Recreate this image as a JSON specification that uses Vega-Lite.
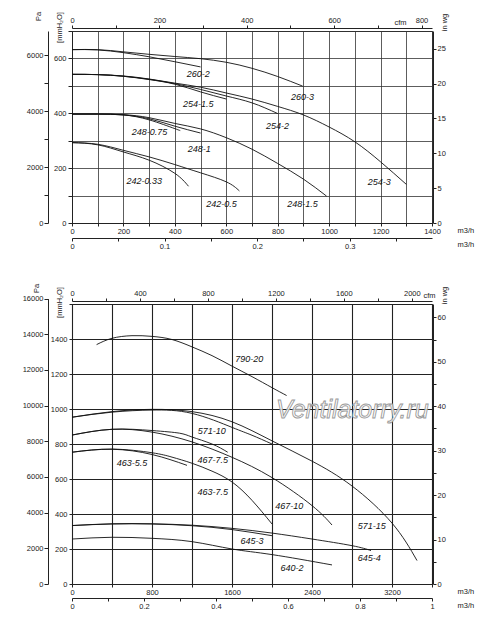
{
  "$schema": "https://vega.github.io/schema/vega-lite/v6.json",
  "description": "Fan performance curves, two panels",
  "padding": {"left": 21, "top": 10, "right": 5, "bottom": 5},
  "spacing": 32,
  "datasets": {
    "top": [
      {"fan": "260-2", "q": 0, "p": 632}, {"fan": "260-2", "q": 100, "p": 631}, {"fan": "260-2", "q": 200, "p": 621}, {"fan": "260-2", "q": 300, "p": 606}, {"fan": "260-2", "q": 400, "p": 588}, {"fan": "260-2", "q": 500, "p": 569},
      {"fan": "260-3", "q": 0, "p": 632}, {"fan": "260-3", "q": 100, "p": 632}, {"fan": "260-3", "q": 200, "p": 624}, {"fan": "260-3", "q": 300, "p": 615}, {"fan": "260-3", "q": 400, "p": 607}, {"fan": "260-3", "q": 500, "p": 599}, {"fan": "260-3", "q": 600, "p": 586}, {"fan": "260-3", "q": 700, "p": 564}, {"fan": "260-3", "q": 800, "p": 534}, {"fan": "260-3", "q": 897, "p": 499},
      {"fan": "254-1.5", "q": 0, "p": 542}, {"fan": "254-1.5", "q": 100, "p": 541}, {"fan": "254-1.5", "q": 200, "p": 535}, {"fan": "254-1.5", "q": 300, "p": 523}, {"fan": "254-1.5", "q": 400, "p": 506}, {"fan": "254-1.5", "q": 500, "p": 478}, {"fan": "254-1.5", "q": 600, "p": 452},
      {"fan": "254-2", "q": 0, "p": 542}, {"fan": "254-2", "q": 100, "p": 541}, {"fan": "254-2", "q": 200, "p": 535}, {"fan": "254-2", "q": 300, "p": 524}, {"fan": "254-2", "q": 400, "p": 508}, {"fan": "254-2", "q": 500, "p": 487}, {"fan": "254-2", "q": 600, "p": 463}, {"fan": "254-2", "q": 700, "p": 438}, {"fan": "254-2", "q": 800, "p": 399},
      {"fan": "254-3", "q": 0, "p": 542}, {"fan": "254-3", "q": 100, "p": 541}, {"fan": "254-3", "q": 200, "p": 536}, {"fan": "254-3", "q": 300, "p": 525}, {"fan": "254-3", "q": 400, "p": 510}, {"fan": "254-3", "q": 500, "p": 495}, {"fan": "254-3", "q": 600, "p": 474}, {"fan": "254-3", "q": 700, "p": 452}, {"fan": "254-3", "q": 800, "p": 425}, {"fan": "254-3", "q": 900, "p": 394}, {"fan": "254-3", "q": 1000, "p": 350}, {"fan": "254-3", "q": 1100, "p": 296}, {"fan": "254-3", "q": 1200, "p": 223}, {"fan": "254-3", "q": 1300, "p": 141},
      {"fan": "248-0.75", "q": 0, "p": 397}, {"fan": "248-0.75", "q": 100, "p": 397}, {"fan": "248-0.75", "q": 200, "p": 394}, {"fan": "248-0.75", "q": 300, "p": 376}, {"fan": "248-0.75", "q": 400, "p": 344}, {"fan": "248-0.75", "q": 421, "p": 337},
      {"fan": "248-1", "q": 0, "p": 397}, {"fan": "248-1", "q": 100, "p": 397}, {"fan": "248-1", "q": 200, "p": 394}, {"fan": "248-1", "q": 300, "p": 380}, {"fan": "248-1", "q": 400, "p": 353}, {"fan": "248-1", "q": 500, "p": 328},
      {"fan": "248-1.5", "q": 0, "p": 397}, {"fan": "248-1.5", "q": 100, "p": 397}, {"fan": "248-1.5", "q": 200, "p": 395}, {"fan": "248-1.5", "q": 300, "p": 384}, {"fan": "248-1.5", "q": 400, "p": 363}, {"fan": "248-1.5", "q": 500, "p": 343}, {"fan": "248-1.5", "q": 600, "p": 311}, {"fan": "248-1.5", "q": 700, "p": 269}, {"fan": "248-1.5", "q": 800, "p": 217}, {"fan": "248-1.5", "q": 900, "p": 160}, {"fan": "248-1.5", "q": 990, "p": 98},
      {"fan": "242-0.33", "q": 0, "p": 293}, {"fan": "242-0.33", "q": 100, "p": 285}, {"fan": "242-0.33", "q": 200, "p": 259}, {"fan": "242-0.33", "q": 300, "p": 229}, {"fan": "242-0.33", "q": 400, "p": 181}, {"fan": "242-0.33", "q": 453, "p": 134},
      {"fan": "242-0.5", "q": 0, "p": 293}, {"fan": "242-0.5", "q": 100, "p": 287}, {"fan": "242-0.5", "q": 200, "p": 265}, {"fan": "242-0.5", "q": 300, "p": 241}, {"fan": "242-0.5", "q": 400, "p": 213}, {"fan": "242-0.5", "q": 500, "p": 183}, {"fan": "242-0.5", "q": 600, "p": 150}, {"fan": "242-0.5", "q": 651, "p": 117}
    ],
    "topLabels": [
      {"fan": "260-2", "q": 491, "p": 544}, {"fan": "254-1.5", "q": 491, "p": 433}, {"fan": "248-0.75", "q": 301, "p": 331}, {"fan": "248-1", "q": 495, "p": 269}, {"fan": "242-0.33", "q": 281, "p": 153},
      {"fan": "242-0.5", "q": 581, "p": 69}, {"fan": "260-3", "q": 896, "p": 458}, {"fan": "254-2", "q": 799, "p": 353}, {"fan": "254-3", "q": 1195, "p": 149}, {"fan": "248-1.5", "q": 896, "p": 69}
    ],
    "bottom": [
      {"fan": "790-20", "q": 246, "p": 1368}, {"fan": "790-20", "q": 400, "p": 1404}, {"fan": "790-20", "q": 600, "p": 1419}, {"fan": "790-20", "q": 800, "p": 1415}, {"fan": "790-20", "q": 1000, "p": 1397}, {"fan": "790-20", "q": 1200, "p": 1355}, {"fan": "790-20", "q": 1400, "p": 1305}, {"fan": "790-20", "q": 1600, "p": 1245}, {"fan": "790-20", "q": 1800, "p": 1185}, {"fan": "790-20", "q": 2000, "p": 1122}, {"fan": "790-20", "q": 2146, "p": 1077},
      {"fan": "571-15", "q": 0, "p": 953}, {"fan": "571-15", "q": 400, "p": 985}, {"fan": "571-15", "q": 800, "p": 998}, {"fan": "571-15", "q": 1200, "p": 985}, {"fan": "571-15", "q": 1600, "p": 927}, {"fan": "571-15", "q": 2000, "p": 818}, {"fan": "571-15", "q": 2400, "p": 702}, {"fan": "571-15", "q": 2800, "p": 560}, {"fan": "571-15", "q": 3200, "p": 348}, {"fan": "571-15", "q": 3450, "p": 134},
      {"fan": "571-10", "q": 0, "p": 953}, {"fan": "571-10", "q": 400, "p": 982}, {"fan": "571-10", "q": 800, "p": 994}, {"fan": "571-10", "q": 1200, "p": 975}, {"fan": "571-10", "q": 1600, "p": 895}, {"fan": "571-10", "q": 1800, "p": 850}, {"fan": "571-10", "q": 2000, "p": 800},
      {"fan": "467-7.5", "q": 0, "p": 851}, {"fan": "467-7.5", "q": 400, "p": 884}, {"fan": "467-7.5", "q": 800, "p": 877}, {"fan": "467-7.5", "q": 1073, "p": 862}, {"fan": "467-7.5", "q": 1200, "p": 840}, {"fan": "467-7.5", "q": 1400, "p": 800}, {"fan": "467-7.5", "q": 1557, "p": 753},
      {"fan": "467-10", "q": 0, "p": 851}, {"fan": "467-10", "q": 400, "p": 884}, {"fan": "467-10", "q": 800, "p": 868}, {"fan": "467-10", "q": 1200, "p": 812}, {"fan": "467-10", "q": 1600, "p": 724}, {"fan": "467-10", "q": 2000, "p": 608}, {"fan": "467-10", "q": 2400, "p": 448}, {"fan": "467-10", "q": 2600, "p": 337},
      {"fan": "463-5.5", "q": 0, "p": 753}, {"fan": "463-5.5", "q": 400, "p": 770}, {"fan": "463-5.5", "q": 800, "p": 740}, {"fan": "463-5.5", "q": 1150, "p": 678},
      {"fan": "463-7.5", "q": 0, "p": 753}, {"fan": "463-7.5", "q": 400, "p": 771}, {"fan": "463-7.5", "q": 800, "p": 750}, {"fan": "463-7.5", "q": 1000, "p": 725}, {"fan": "463-7.5", "q": 1200, "p": 690}, {"fan": "463-7.5", "q": 1400, "p": 645}, {"fan": "463-7.5", "q": 1600, "p": 583}, {"fan": "463-7.5", "q": 1800, "p": 478}, {"fan": "463-7.5", "q": 2000, "p": 343},
      {"fan": "645-3", "q": 0, "p": 334}, {"fan": "645-3", "q": 400, "p": 343}, {"fan": "645-3", "q": 800, "p": 343}, {"fan": "645-3", "q": 1200, "p": 333}, {"fan": "645-3", "q": 1600, "p": 311}, {"fan": "645-3", "q": 2000, "p": 276},
      {"fan": "645-4", "q": 0, "p": 334}, {"fan": "645-4", "q": 400, "p": 344}, {"fan": "645-4", "q": 800, "p": 344}, {"fan": "645-4", "q": 1200, "p": 336}, {"fan": "645-4", "q": 1600, "p": 318}, {"fan": "645-4", "q": 2000, "p": 291}, {"fan": "645-4", "q": 2400, "p": 257}, {"fan": "645-4", "q": 2800, "p": 219}, {"fan": "645-4", "q": 2990, "p": 191},
      {"fan": "640-2", "q": 0, "p": 257}, {"fan": "640-2", "q": 400, "p": 267}, {"fan": "640-2", "q": 800, "p": 261}, {"fan": "640-2", "q": 1200, "p": 242}, {"fan": "640-2", "q": 1600, "p": 200}, {"fan": "640-2", "q": 2000, "p": 168}, {"fan": "640-2", "q": 2600, "p": 109}
    ],
    "bottomLabels": [
      {"fan": "790-20", "q": 1773, "p": 1286}, {"fan": "571-10", "q": 1397, "p": 873}, {"fan": "467-7.5", "q": 1407, "p": 711}, {"fan": "463-7.5", "q": 1407, "p": 528}, {"fan": "463-5.5", "q": 600, "p": 690},
      {"fan": "467-10", "q": 2173, "p": 448}, {"fan": "571-15", "q": 2997, "p": 330}, {"fan": "645-3", "q": 1800, "p": 244}, {"fan": "645-4", "q": 2973, "p": 147}, {"fan": "640-2", "q": 2200, "p": 91}
    ],
    "mark": [{"site": "Ventilatorry.ru", "q": 2803, "p": 992}],
    "stub": [{"v": 0}]
  },
  "vconcat": [
    {
      "width": 360,
      "height": 192,
      "resolve": {"scale": {"x": "independent", "y": "independent"}},
      "layer": [
        {
          "data": {"name": "top"},
          "mark": {"type": "line", "interpolate": "natural", "color": "#111", "strokeWidth": 0.9},
          "encoding": {
            "x": {"field": "q", "type": "quantitative", "scale": {"domain": [0, 1400], "nice": false},
              "axis": {"orient": "bottom", "values": [0, 100, 200, 300, 400, 500, 600, 700, 800, 900, 1000, 1100, 1200, 1300, 1400], "format": "d",
                "labelExpr": "datum.value % 200 === 0 ? datum.label : ''", "grid": true, "gridColor": "#333", "gridWidth": 0.8, "tickSize": 3, "labelPadding": 1,
                "title": "m3/h", "titleX": 385, "titleY": 7, "titleAlign": "left", "titleBaseline": "middle", "titleAngle": 0}},
            "y": {"field": "p", "type": "quantitative", "scale": {"domain": [0, 700], "nice": false},
              "axis": {"orient": "left", "values": [0, 100, 200, 300, 400, 500, 600, 700], "format": "d",
                "labelExpr": "datum.value % 200 === 0 ? datum.label : ''", "grid": true, "gridColor": "#333", "gridWidth": 0.8, "tickSize": 4, "labelPadding": 2,
                "title": "[mmH₂O]", "titleX": -13, "titleY": -4, "titleAngle": 270, "titleAlign": "center", "titleBaseline": "middle"}},
            "detail": {"field": "fan"}
          }
        },
        {
          "data": {"name": "topLabels"},
          "mark": {"type": "text", "fontSize": 9, "fontStyle": "italic", "color": "#111", "align": "center", "baseline": "middle"},
          "encoding": {
            "x": {"field": "q", "type": "quantitative", "scale": {"domain": [0, 1400], "nice": false}, "axis": null},
            "y": {"field": "p", "type": "quantitative", "scale": {"domain": [0, 700], "nice": false}, "axis": null},
            "text": {"field": "fan"}
          }
        },
        {
          "data": {"name": "stub"},
          "mark": {"type": "point", "opacity": 0},
          "encoding": {
            "x": {"field": "v", "type": "quantitative", "scale": {"domain": [0, 824], "nice": false},
              "axis": {"orient": "top", "offset": 3, "values": [0, 100, 200, 300, 400, 500, 600, 700, 800], "format": "d",
                "labelExpr": "datum.value % 200 === 0 ? datum.label : ''", "tickSize": 3, "labelPadding": 1,
                "title": "cfm", "titleX": 328, "titleY": -6, "titleAlign": "center", "titleBaseline": "middle", "titleAngle": 0}},
            "y": {"field": "v", "type": "quantitative", "scale": {"domain": [0, 1]}, "axis": null}
          }
        },
        {
          "data": {"name": "stub"},
          "mark": {"type": "point", "opacity": 0},
          "encoding": {
            "x": {"field": "v", "type": "quantitative", "scale": {"domain": [0, 0.38889], "nice": false},
              "axis": {"orient": "bottom", "offset": 15, "values": [0, 0.05, 0.1, 0.15, 0.2, 0.25, 0.3, 0.35],
                "labelExpr": "round(datum.value * 100) % 10 === 0 ? format(datum.value, '~g') : ''", "tickSize": 3, "labelPadding": 1,
                "title": "m3/h", "titleX": 385, "titleY": 6, "titleAlign": "left", "titleBaseline": "middle", "titleAngle": 0}},
            "y": {"field": "v", "type": "quantitative", "scale": {"domain": [0, 1]}, "axis": null}
          }
        },
        {
          "data": {"name": "stub"},
          "mark": {"type": "point", "opacity": 0},
          "encoding": {
            "x": {"field": "v", "type": "quantitative", "scale": {"domain": [0, 1]}, "axis": null},
            "y": {"field": "v", "type": "quantitative", "scale": {"domain": [0, 6867], "nice": false},
              "axis": {"orient": "left", "offset": 24, "values": [0, 1000, 2000, 3000, 4000, 5000, 6000], "format": "d",
                "labelExpr": "datum.value % 2000 === 0 ? datum.label : ''", "tickSize": 4, "labelPadding": 1,
                "title": "Pa", "titleX": -10, "titleY": -15, "titleAngle": 270, "titleAlign": "center", "titleBaseline": "middle"}}
          }
        },
        {
          "data": {"name": "stub"},
          "mark": {"type": "point", "opacity": 0},
          "encoding": {
            "x": {"field": "v", "type": "quantitative", "scale": {"domain": [0, 1]}, "axis": null},
            "y": {"field": "v", "type": "quantitative", "scale": {"domain": [0, 27.559], "nice": false},
              "axis": {"orient": "right", "offset": 1, "values": [0, 5, 10, 15, 20, 25], "tickSize": 3, "labelPadding": 1,
                "title": "in wg", "titleX": 11, "titleY": -9, "titleAngle": 270, "titleAlign": "center", "titleBaseline": "middle"}}
          }
        }
      ]
    },
    {
      "width": 360,
      "height": 280,
      "resolve": {"scale": {"x": "independent", "y": "independent"}},
      "layer": [
        {
          "data": {"name": "bottom"},
          "mark": {"type": "line", "interpolate": "natural", "color": "#111", "strokeWidth": 0.9},
          "encoding": {
            "x": {"field": "q", "type": "quantitative", "scale": {"domain": [0, 3600], "nice": false},
              "axis": {"orient": "bottom", "values": [0, 400, 800, 1200, 1600, 2000, 2400, 2800, 3200, 3600], "format": "d",
                "labelExpr": "datum.value % 800 === 0 ? datum.label : ''", "grid": true, "gridColor": "#222", "gridWidth": 1.1, "tickSize": 3, "labelPadding": 1,
                "title": "m3/h", "titleX": 385, "titleY": 7, "titleAlign": "left", "titleBaseline": "middle", "titleAngle": 0}},
            "y": {"field": "p", "type": "quantitative", "scale": {"domain": [0, 1600], "nice": false},
              "axis": {"orient": "left", "values": [0, 200, 400, 600, 800, 1000, 1200, 1400, 1600], "format": "d",
                "labelExpr": "datum.value < 1600 ? datum.label : ''", "grid": true, "gridColor": "#222", "gridWidth": 1.1, "tickSize": 3, "labelPadding": 2,
                "title": "[mmH₂O]", "titleX": -13, "titleY": -2, "titleAngle": 270, "titleAlign": "center", "titleBaseline": "middle"}},
            "detail": {"field": "fan"}
          }
        },
        {
          "data": {"name": "mark"},
          "mark": {"type": "text", "fontSize": 25, "fontStyle": "italic", "fill": "#ffffff", "fillOpacity": 0.85, "stroke": "#9a9a9a", "strokeWidth": 0.9, "align": "center", "baseline": "middle"},
          "encoding": {
            "x": {"field": "q", "type": "quantitative", "scale": {"domain": [0, 3600], "nice": false}, "axis": null},
            "y": {"field": "p", "type": "quantitative", "scale": {"domain": [0, 1600], "nice": false}, "axis": null},
            "text": {"field": "site"}
          }
        },
        {
          "data": {"name": "bottomLabels"},
          "mark": {"type": "text", "fontSize": 9, "fontStyle": "italic", "color": "#111", "align": "center", "baseline": "middle"},
          "encoding": {
            "x": {"field": "q", "type": "quantitative", "scale": {"domain": [0, 3600], "nice": false}, "axis": null},
            "y": {"field": "p", "type": "quantitative", "scale": {"domain": [0, 1600], "nice": false}, "axis": null},
            "text": {"field": "fan"}
          }
        },
        {
          "data": {"name": "stub"},
          "mark": {"type": "point", "opacity": 0},
          "encoding": {
            "x": {"field": "v", "type": "quantitative", "scale": {"domain": [0, 2118.9], "nice": false},
              "axis": {"orient": "top", "offset": 3, "values": [0, 200, 400, 600, 800, 1000, 1200, 1400, 1600, 1800, 2000], "format": "d",
                "labelExpr": "datum.value % 400 === 0 ? datum.label : ''", "tickSize": 3, "labelPadding": 1,
                "title": "cfm", "titleX": 357, "titleY": -6, "titleAlign": "center", "titleBaseline": "middle", "titleAngle": 0}},
            "y": {"field": "v", "type": "quantitative", "scale": {"domain": [0, 1]}, "axis": null}
          }
        },
        {
          "data": {"name": "stub"},
          "mark": {"type": "point", "opacity": 0},
          "encoding": {
            "x": {"field": "v", "type": "quantitative", "scale": {"domain": [0, 1], "nice": false},
              "axis": {"orient": "bottom", "offset": 14, "values": [0, 0.1, 0.2, 0.3, 0.4, 0.5, 0.6, 0.7, 0.8, 0.9, 1],
                "labelExpr": "round(datum.value * 10) % 2 === 0 ? format(datum.value, '~g') : ''", "tickSize": 3, "labelPadding": 1,
                "title": "m3/h", "titleX": 385, "titleY": 7, "titleAlign": "left", "titleBaseline": "middle", "titleAngle": 0}},
            "y": {"field": "v", "type": "quantitative", "scale": {"domain": [0, 1]}, "axis": null}
          }
        },
        {
          "data": {"name": "stub"},
          "mark": {"type": "point", "opacity": 0},
          "encoding": {
            "x": {"field": "v", "type": "quantitative", "scale": {"domain": [0, 1]}, "axis": null},
            "y": {"field": "v", "type": "quantitative", "scale": {"domain": [0, 16000], "range": [280, -5.4], "nice": false},
              "axis": {"orient": "left", "offset": 24, "values": [0, 2000, 4000, 6000, 8000, 10000, 12000, 14000, 16000], "format": "d",
                "tickSize": 4, "labelPadding": 1,
                "title": "Pa", "titleX": -12, "titleY": -16, "titleAngle": 270, "titleAlign": "center", "titleBaseline": "middle"}}
          }
        },
        {
          "data": {"name": "stub"},
          "mark": {"type": "point", "opacity": 0},
          "encoding": {
            "x": {"field": "v", "type": "quantitative", "scale": {"domain": [0, 1]}, "axis": null},
            "y": {"field": "v", "type": "quantitative", "scale": {"domain": [0, 62.99], "nice": false},
              "axis": {"orient": "right", "offset": 1, "values": [0, 5, 10, 15, 20, 25, 30, 35, 40, 45, 50, 55, 60],
                "labelExpr": "datum.value % 10 === 0 ? datum.label : ''", "tickSize": 3, "labelPadding": 1,
                "title": "in wg", "titleX": 11, "titleY": -9, "titleAngle": 270, "titleAlign": "center", "titleBaseline": "middle"}}
          }
        }
      ]
    }
  ],
  "config": {
    "view": {"stroke": "#222", "strokeWidth": 1},
    "axis": {
      "labelFont": "Liberation Sans", "labelFontSize": 7.5, "labelColor": "#222",
      "titleFont": "Liberation Sans", "titleFontSize": 7.5, "titleFontWeight": "normal", "titleColor": "#222",
      "tickColor": "#222", "domainColor": "#222", "labelOverlap": false, "labelFlush": false, "labelBound": false
    },
    "text": {"font": "Liberation Sans"}
  }
}
